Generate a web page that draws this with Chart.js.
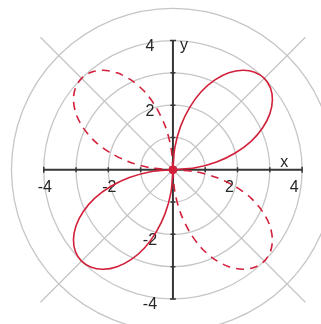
<!DOCTYPE html>
<html>
<head>
<meta charset="utf-8">
<script src="https://cdn.jsdelivr.net/npm/chart.js@4"></script>
<style>
  body { margin: 0; background: #fff; }
  #caja { width: 321px; height: 324px; }
</style>
</head>
<body>
<div id="caja"><canvas id="grafica"></canvas></div>
<script>
// lobulos de la rosa (x, y)
const loboQ1X = [0, 0.69, 1.35, 1.93, 2.42, 2.78, 3.00, 3.08, 3.02, 2.83, 2.53, 2.16, 1.73, 1.30, 0.88, 0.52, 0.24, 0.06, 0];
const loboQ1Y = [0, 0.06, 0.24, 0.52, 0.88, 1.30, 1.73, 2.16, 2.53, 2.83, 3.02, 3.08, 3.00, 2.78, 2.42, 1.93, 1.35, 0.69, 0];
const loboQ3X = [0, -0.69, -1.35, -1.93, -2.42, -2.78, -3.00, -3.08, -3.02, -2.83, -2.53, -2.16, -1.73, -1.30, -0.88, -0.52, -0.24, -0.06, 0];
const loboQ3Y = [0, -0.06, -0.24, -0.52, -0.88, -1.30, -1.73, -2.16, -2.53, -2.83, -3.02, -3.08, -3.00, -2.78, -2.42, -1.93, -1.35, -0.69, 0];
const loboQ2X = [0, -0.06, -0.24, -0.52, -0.88, -1.30, -1.73, -2.16, -2.53, -2.83, -3.02, -3.08, -3.00, -2.78, -2.42, -1.93, -1.35, -0.69, 0];
const loboQ2Y = [0, 0.69, 1.35, 1.93, 2.42, 2.78, 3.00, 3.08, 3.02, 2.83, 2.53, 2.16, 1.73, 1.30, 0.88, 0.52, 0.24, 0.06, 0];
const loboQ4X = [0, 0.06, 0.24, 0.52, 0.88, 1.30, 1.73, 2.16, 2.53, 2.83, 3.02, 3.08, 3.00, 2.78, 2.42, 1.93, 1.35, 0.69, 0];
const loboQ4Y = [0, -0.69, -1.35, -1.93, -2.42, -2.78, -3.00, -3.08, -3.02, -2.83, -2.53, -2.16, -1.73, -1.30, -0.88, -0.52, -0.24, -0.06, 0];

const circulos = [1, 2, 3, 4, 5];
const angulosRadiales = [45, 135, 225, 315];
const largoRadial = 5.8;
const marcasEje = [-4, -3, -2, -1, 1, 2, 3, 4];
const etiquetasEje = [-4, -2, 2, 4];

const rojo = "#d2203a";

function puntos(xs, ys){
    return xs.map((x, i) => ({ x: x, y: ys[i] }));
}

function lobo(xs, ys, punteado){
    return {
        data: puntos(xs, ys),
        showLine: true,
        borderColor: rojo,
        borderWidth: 1.6,
        borderDash: punteado ? [8, 6] : [],
        pointRadius: 0,
        tension: 0.3,
        fill: false
    };
}

const fondoPolar = {
    id: "fondoPolar",
    beforeDatasetsDraw(chart){
        const ctx = chart.ctx;
        const sx = chart.scales.x;
        const sy = chart.scales.y;
        const cx = sx.getPixelForValue(0);
        const cy = sy.getPixelForValue(0);
        const unidad = sx.getPixelForValue(1) - cx;

        ctx.save();
        ctx.strokeStyle = "#c6c6c6";
        ctx.lineWidth = 1.3;
        circulos.forEach(r => {
            ctx.beginPath();
            ctx.arc(cx, cy, r * unidad, 0, Math.PI * 2);
            ctx.stroke();
        });
        angulosRadiales.forEach(a => {
            const rad = a * Math.PI / 180;
            ctx.beginPath();
            ctx.moveTo(cx, cy);
            ctx.lineTo(sx.getPixelForValue(largoRadial * Math.cos(rad)), sy.getPixelForValue(largoRadial * Math.sin(rad)));
            ctx.stroke();
        });

        // ejes
        ctx.strokeStyle = "#363636";
        ctx.lineWidth = 2;
        ctx.beginPath();
        ctx.moveTo(sx.getPixelForValue(-4), cy);
        ctx.lineTo(sx.getPixelForValue(4), cy);
        ctx.moveTo(cx, sy.getPixelForValue(4));
        ctx.lineTo(cx, sy.getPixelForValue(-4));
        ctx.stroke();

        ctx.lineWidth = 1.5;
        marcasEje.forEach(v => {
            const px = sx.getPixelForValue(v);
            const py = sy.getPixelForValue(v);
            const m = Math.abs(v) == 4 ? 3 : 2.5;
            ctx.beginPath();
            ctx.moveTo(px, cy - m);
            ctx.lineTo(px, cy + m);
            ctx.moveTo(cx - m, py);
            ctx.lineTo(cx + m, py);
            ctx.stroke();
        });

        // etiquetas
        ctx.fillStyle = "#262626";
        ctx.font = "16px 'Liberation Sans', Arial, sans-serif";
        ctx.textAlign = "center";
        ctx.textBaseline = "middle";
        etiquetasEje.forEach(v => {
            ctx.fillText(String(v), sx.getPixelForValue(v) + (v < 0 ? 1 : -8), cy + 18);
            ctx.fillText(String(v), cx - 23, sy.getPixelForValue(v) + 6);
        });
        ctx.fillText("x", sx.getPixelForValue(3.45), cy - 7);
        ctx.fillText("y", cx + 11, sy.getPixelForValue(3.85));
        ctx.restore();
    }
};

new Chart(document.getElementById("grafica"), {
    type: "scatter",
    data: {
        datasets: [
            lobo(loboQ1X, loboQ1Y, false),
            lobo(loboQ3X, loboQ3Y, false),
            lobo(loboQ2X, loboQ2Y, true),
            lobo(loboQ4X, loboQ4Y, true),
            {
                data: [{ x: 0, y: 0 }],
                pointRadius: 4,
                backgroundColor: rojo,
                borderColor: rojo
            }
        ]
    },
    options: {
        responsive: true,
        maintainAspectRatio: false,
        animation: false,
        layout: { padding: 0 },
        plugins: { legend: { display: false }, tooltip: { enabled: false } },
        scales: {
            x: { type: "linear", min: -5.2, max: 4.43, display: false },
            y: { type: "linear", min: -4.62, max: 5.1, display: false }
        }
    },
    plugins: [fondoPolar]
});
</script>
</body>
</html>
